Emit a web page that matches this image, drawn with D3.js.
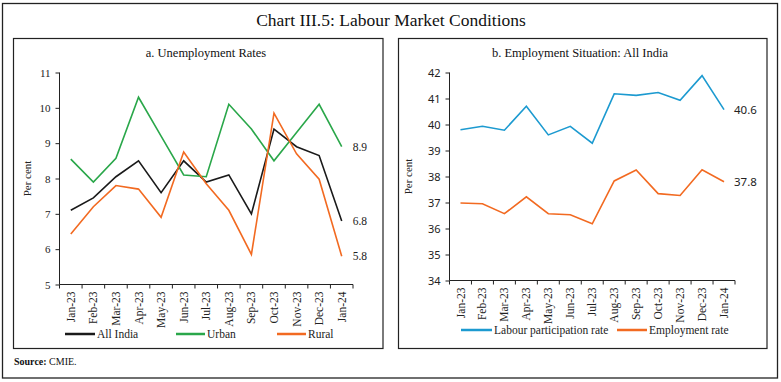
<!DOCTYPE html>
<html><head><meta charset="utf-8">
<script src="https://cdn.jsdelivr.net/npm/d3@7"></script>
<style>
html,body{margin:0;padding:0;background:#fff;}
svg{display:block;}
</style></head>
<body>
<svg id="c" width="781" height="382"></svg>
<script>
const months = ["Jan-23","Feb-23","Mar-23","Apr-23","May-23","Jun-23","Jul-23","Aug-23","Sep-23","Oct-23","Nov-23","Dec-23","Jan-24"];
const allIndia = [7.1, 7.45, 8.05, 8.5, 7.6, 8.5, 7.9, 8.1, 7.0, 9.4, 8.9, 8.65, 6.8];
const urban    = [8.55, 7.9, 8.57, 10.3, 9.2, 8.1, 8.05, 10.1, 9.4, 8.5, 9.3, 10.1, 8.9];
const rural    = [6.43, 7.2, 7.8, 7.7, 6.9, 8.75, 7.85, 7.1, 5.85, 9.85, 8.7, 7.98, 5.8];
const lfpr     = [39.8, 39.93, 39.78, 40.7, 39.6, 39.93, 39.28, 41.18, 41.12, 41.23, 40.93, 41.88, 40.57];
const empRate  = [36.98, 36.95, 36.57, 37.22, 36.57, 36.53, 36.18, 37.83, 38.25, 37.34, 37.27, 38.26, 37.8];
const ticksA = [5,6,7,8,9,10,11];
const ticksB = [34,35,36,37,38,39,40,41,42];
const endLabelsA = ["8.9","6.8","5.8"];
const endLabelsB = ["40.6","37.8"];

const SERIF = "'Liberation Serif','DejaVu Serif',serif";
const SANS = "'Noto Sans','Open Sans',sans-serif";
const svg = d3.select("#c");

// outer frame
svg.append("rect").attr("x",2.5).attr("y",3.5).attr("width",775).attr("height",374.5)
  .attr("fill","none").attr("stroke","#222").attr("stroke-width",1.3);
svg.append("text").attr("x",391).attr("y",26).attr("text-anchor","middle")
  .attr("font-family",SERIF).attr("font-size",17.5).attr("fill","#111")
  .text("Chart III.5: Labour Market Conditions");
const src = svg.append("text").attr("x",14).attr("y",365).attr("font-family",SERIF).attr("font-size",10).attr("fill","#111");
src.append("tspan").attr("font-weight","bold").text("Source:");
src.append("tspan").text(" CMIE.");

function panel(cfg){
  const g = svg.append("g");
  g.append("rect").attr("x",cfg.box[0]).attr("y",cfg.box[1]).attr("width",cfg.box[2]-cfg.box[0]).attr("height",cfg.box[3]-cfg.box[1])
    .attr("fill","none").attr("stroke","#222").attr("stroke-width",1.2);
  g.append("text").attr("x",cfg.titleX).attr("y",57).attr("text-anchor","middle")
    .attr("font-family",SERIF).attr("font-size",12.5).attr("fill","#111").text(cfg.title);
  const x = d3.scaleBand().domain(months).range([cfg.x0,cfg.x1]);
  const y = d3.scaleLinear().domain(cfg.domain).range([cfg.yb,cfg.yt]);
  // y axis
  const ya = g.append("g").attr("transform",`translate(${cfg.x0},0)`)
    .call(d3.axisLeft(y).tickValues(cfg.ticks).tickSize(4).tickPadding(5).tickFormat(d3.format("d")));
  ya.select(".domain").attr("stroke","#222").attr("d",`M0,${cfg.yt}V${cfg.yb}`);
  ya.selectAll(".tick line").attr("stroke","#222");
  ya.selectAll("text").attr("font-family",cfg.yFont).attr("font-size",11).attr("fill","#222");
  // x axis
  const xa = g.append("g").attr("transform",`translate(0,${cfg.yb})`);
  xa.append("line").attr("x1",cfg.x0).attr("x2",cfg.x1).attr("stroke","#222");
  const edges = months.map(m=>x(m)).concat([cfg.x1]);
  xa.selectAll("line.tk").data(edges).enter().append("line").attr("class","tk")
    .attr("x1",d=>d).attr("x2",d=>d).attr("y1",0).attr("y2",4).attr("stroke","#222");
  xa.selectAll("text").data(months).enter().append("text")
    .attr("transform",d=>`translate(${x(d)+x.bandwidth()/2},${cfg.labOff}) rotate(-90)`)
    .attr("text-anchor","end").attr("dy","0.35em")
    .attr("font-family",SERIF).attr("font-size",11.5).attr("fill","#222").text(d=>d);
  // y label
  g.append("text").attr("transform",`translate(${cfg.ylabX},${(cfg.yt+cfg.yb)/2}) rotate(-90)`)
    .attr("text-anchor","middle").attr("font-family",SERIF).attr("font-size",11).attr("fill","#222").text("Per cent");
  const line = d3.line().x((d,i)=>x(months[i])+x.bandwidth()/2).y(d=>y(d));
  cfg.series.forEach(s=>{
    g.append("path").datum(s.values).attr("d",line).attr("fill","none")
      .attr("stroke",s.color).attr("stroke-width",1.6).attr("stroke-linejoin","miter");
  });
  cfg.endLabels.forEach(e=>{
    const s = cfg.series[e.si];
    g.append("text").attr("x",x(months[12])+x.bandwidth()/2+cfg.endOff).attr("y",y(s.values[12])).attr("dy","0.35em")
      .attr("font-family",cfg.endFont).attr("font-size",11.5).attr("fill","#222").text(e.text);
  });
  // legend
  cfg.legend.forEach(l=>{
    const s = cfg.series[l.si];
    g.append("line").attr("x1",l.x).attr("x2",l.x+l.w).attr("y1",cfg.legY).attr("y2",cfg.legY)
      .attr("stroke",s.color).attr("stroke-width",2.5);
    g.append("text").attr("x",l.x+l.w+2).attr("y",cfg.legY).attr("dy","0.35em")
      .attr("font-family",SERIF).attr("font-size",11.5).attr("fill","#222").text(s.name);
  });
}

panel({
  box:[13.5,38.5,383,348.5], title:"a. Unemployment Rates", titleX:206,
  x0:59.5, x1:353, yt:72.5, yb:284.5, domain:[5,11], ticks:ticksA, yFont:SERIF,
  labOff:7, ylabX:31, endOff:11, endFont:SERIF, legY:334,
  series:[
    {name:"All India", values:allIndia, color:"#1a1a1a"},
    {name:"Urban", values:urban, color:"#2aa74a"},
    {name:"Rural", values:rural, color:"#f26a21"}
  ],
  endLabels:[{si:1,text:endLabelsA[0]},{si:0,text:endLabelsA[1]},{si:2,text:endLabelsA[2]}],
  legend:[{si:0,x:65,w:30},{si:1,x:176,w:29},{si:2,x:277,w:29}]
});
panel({
  box:[398.5,38.5,767,348.5], title:"b. Employment Situation: All India", titleX:580,
  x0:449.5, x1:735, yt:72.5, yb:280.5, domain:[34,42], ticks:ticksB, yFont:SANS,
  labOff:7, ylabX:412, endOff:10, endFont:SANS, legY:330,
  series:[
    {name:"Labour participation rate", values:lfpr, color:"#1c9ad0"},
    {name:"Employment rate", values:empRate, color:"#f26a21"}
  ],
  endLabels:[{si:0,text:endLabelsB[0]},{si:1,text:endLabelsB[1]}],
  legend:[{si:0,x:461,w:31},{si:1,x:617,w:30}]
});
</script>
</body></html>
